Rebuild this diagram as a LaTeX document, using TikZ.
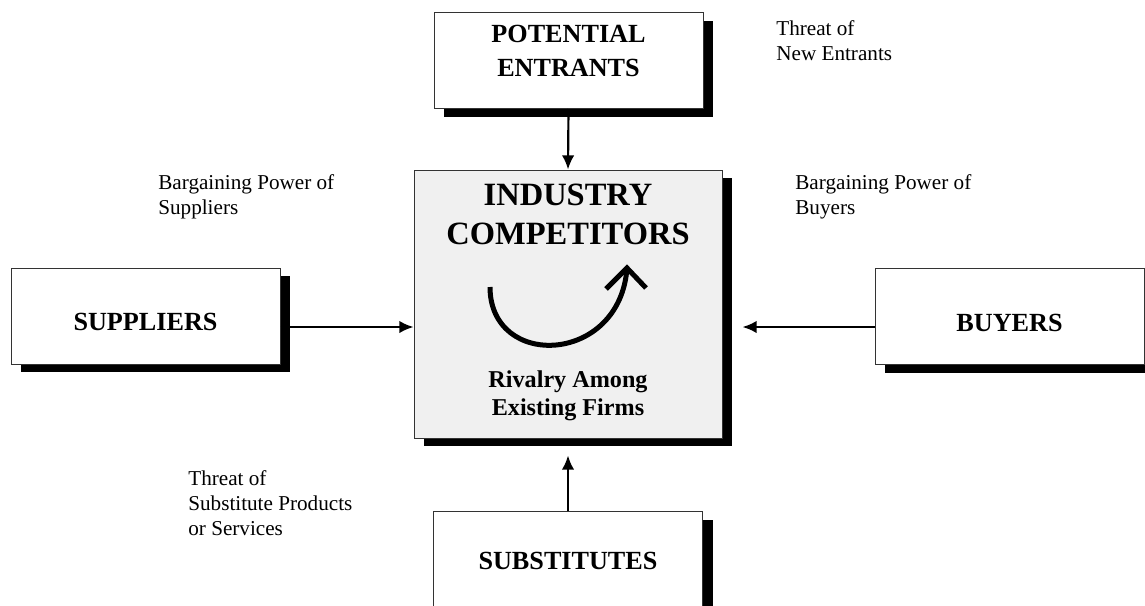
\documentclass[tikz,border=0pt]{standalone}
\usepackage{fontspec}
\setmainfont{Liberation Serif}
\usepackage{tikz}
\usetikzlibrary{arrows.meta}
\usetikzlibrary{shadows}

\tikzset{
  force/.style={draw=black!80, fill=white, line width=0.6pt,
    minimum width=161.4pt, minimum height=57.6pt,
    drop shadow={shadow xshift=6pt, shadow yshift=-4.8pt, fill=black, opacity=1}},
  flow/.style={line width=1.3pt, -{Latex[length=8.5pt,width=7.5pt]}},
  title/.style={font=\fontsize{15.7}{20.5}\selectfont\bfseries, align=center},
  note/.style={font=\fontsize{12.7}{15}\selectfont, align=left, anchor=west, inner xsep=0pt},
}

\begin{document}
\begin{tikzpicture}[x=0.6pt,y=-0.6pt]
    \useasboundingbox (0,0) rectangle (1145,605);
    % the five forces
    \node[force] (ent) at (568.5,60.5) {};
    \node[force] (sup) at (145.5,316) {};
    \node[force] (buy) at (1009.5,316.5) {};
    \node[force] (sub) at (568,559.5) {};
    \node[force, fill=black!6, minimum width=184.8pt, minimum height=160.8pt] (ind) at (568,304) {};
    \node[title] (entname) at (568.5,51) {POTENTIAL\\ENTRANTS};
    \node[title] (supname) at (145.5,322) {SUPPLIERS};
    \node[title] (buyname) at (1009.5,323) {BUYERS};
    \node[title] (subname) at (568,561) {SUBSTITUTES};
    \node[title, font=\fontsize{19.5}{23.4}\selectfont\bfseries] (indname) at (568,214) {INDUSTRY\\COMPETITORS};
    \node[title, font=\fontsize{14.5}{16.5}\selectfont\bfseries] (rivalry) at (568,396) {Rivalry Among\\Existing Firms};
    % rivalry loop
    \draw[line width=3pt] (490,287) .. controls (490,370) and (620,365) .. (627,268);
    \draw[line width=3pt] (606,289) -- (627,268) -- (646,288);
    % arrows into the industry
    \coordinate (mid) at (0,327);
    \draw[flow] (ent.south) -- (ind.north);
    \draw[flow] (sup.east |- mid) -- (ind.west |- mid);
    \draw[flow] (buy.west |- mid) -- ([xshift=12pt]ind.east |- mid);
    \draw[flow] (sub.north) -- ([yshift=-10.2pt]ind.south);
    % labels
    \node[note] (newent) at (776,40.5) {Threat of\\New Entrants};
    \node[note] (supp) at (158,197) {Bargaining Power of\\Suppliers};
    \node[note] (buyp) at (795,197) {Bargaining Power of\\Buyers};
    \node[note] (subst) at (188,503) {Threat of\\Substitute Products\\or Services};
\end{tikzpicture}
\end{document}
